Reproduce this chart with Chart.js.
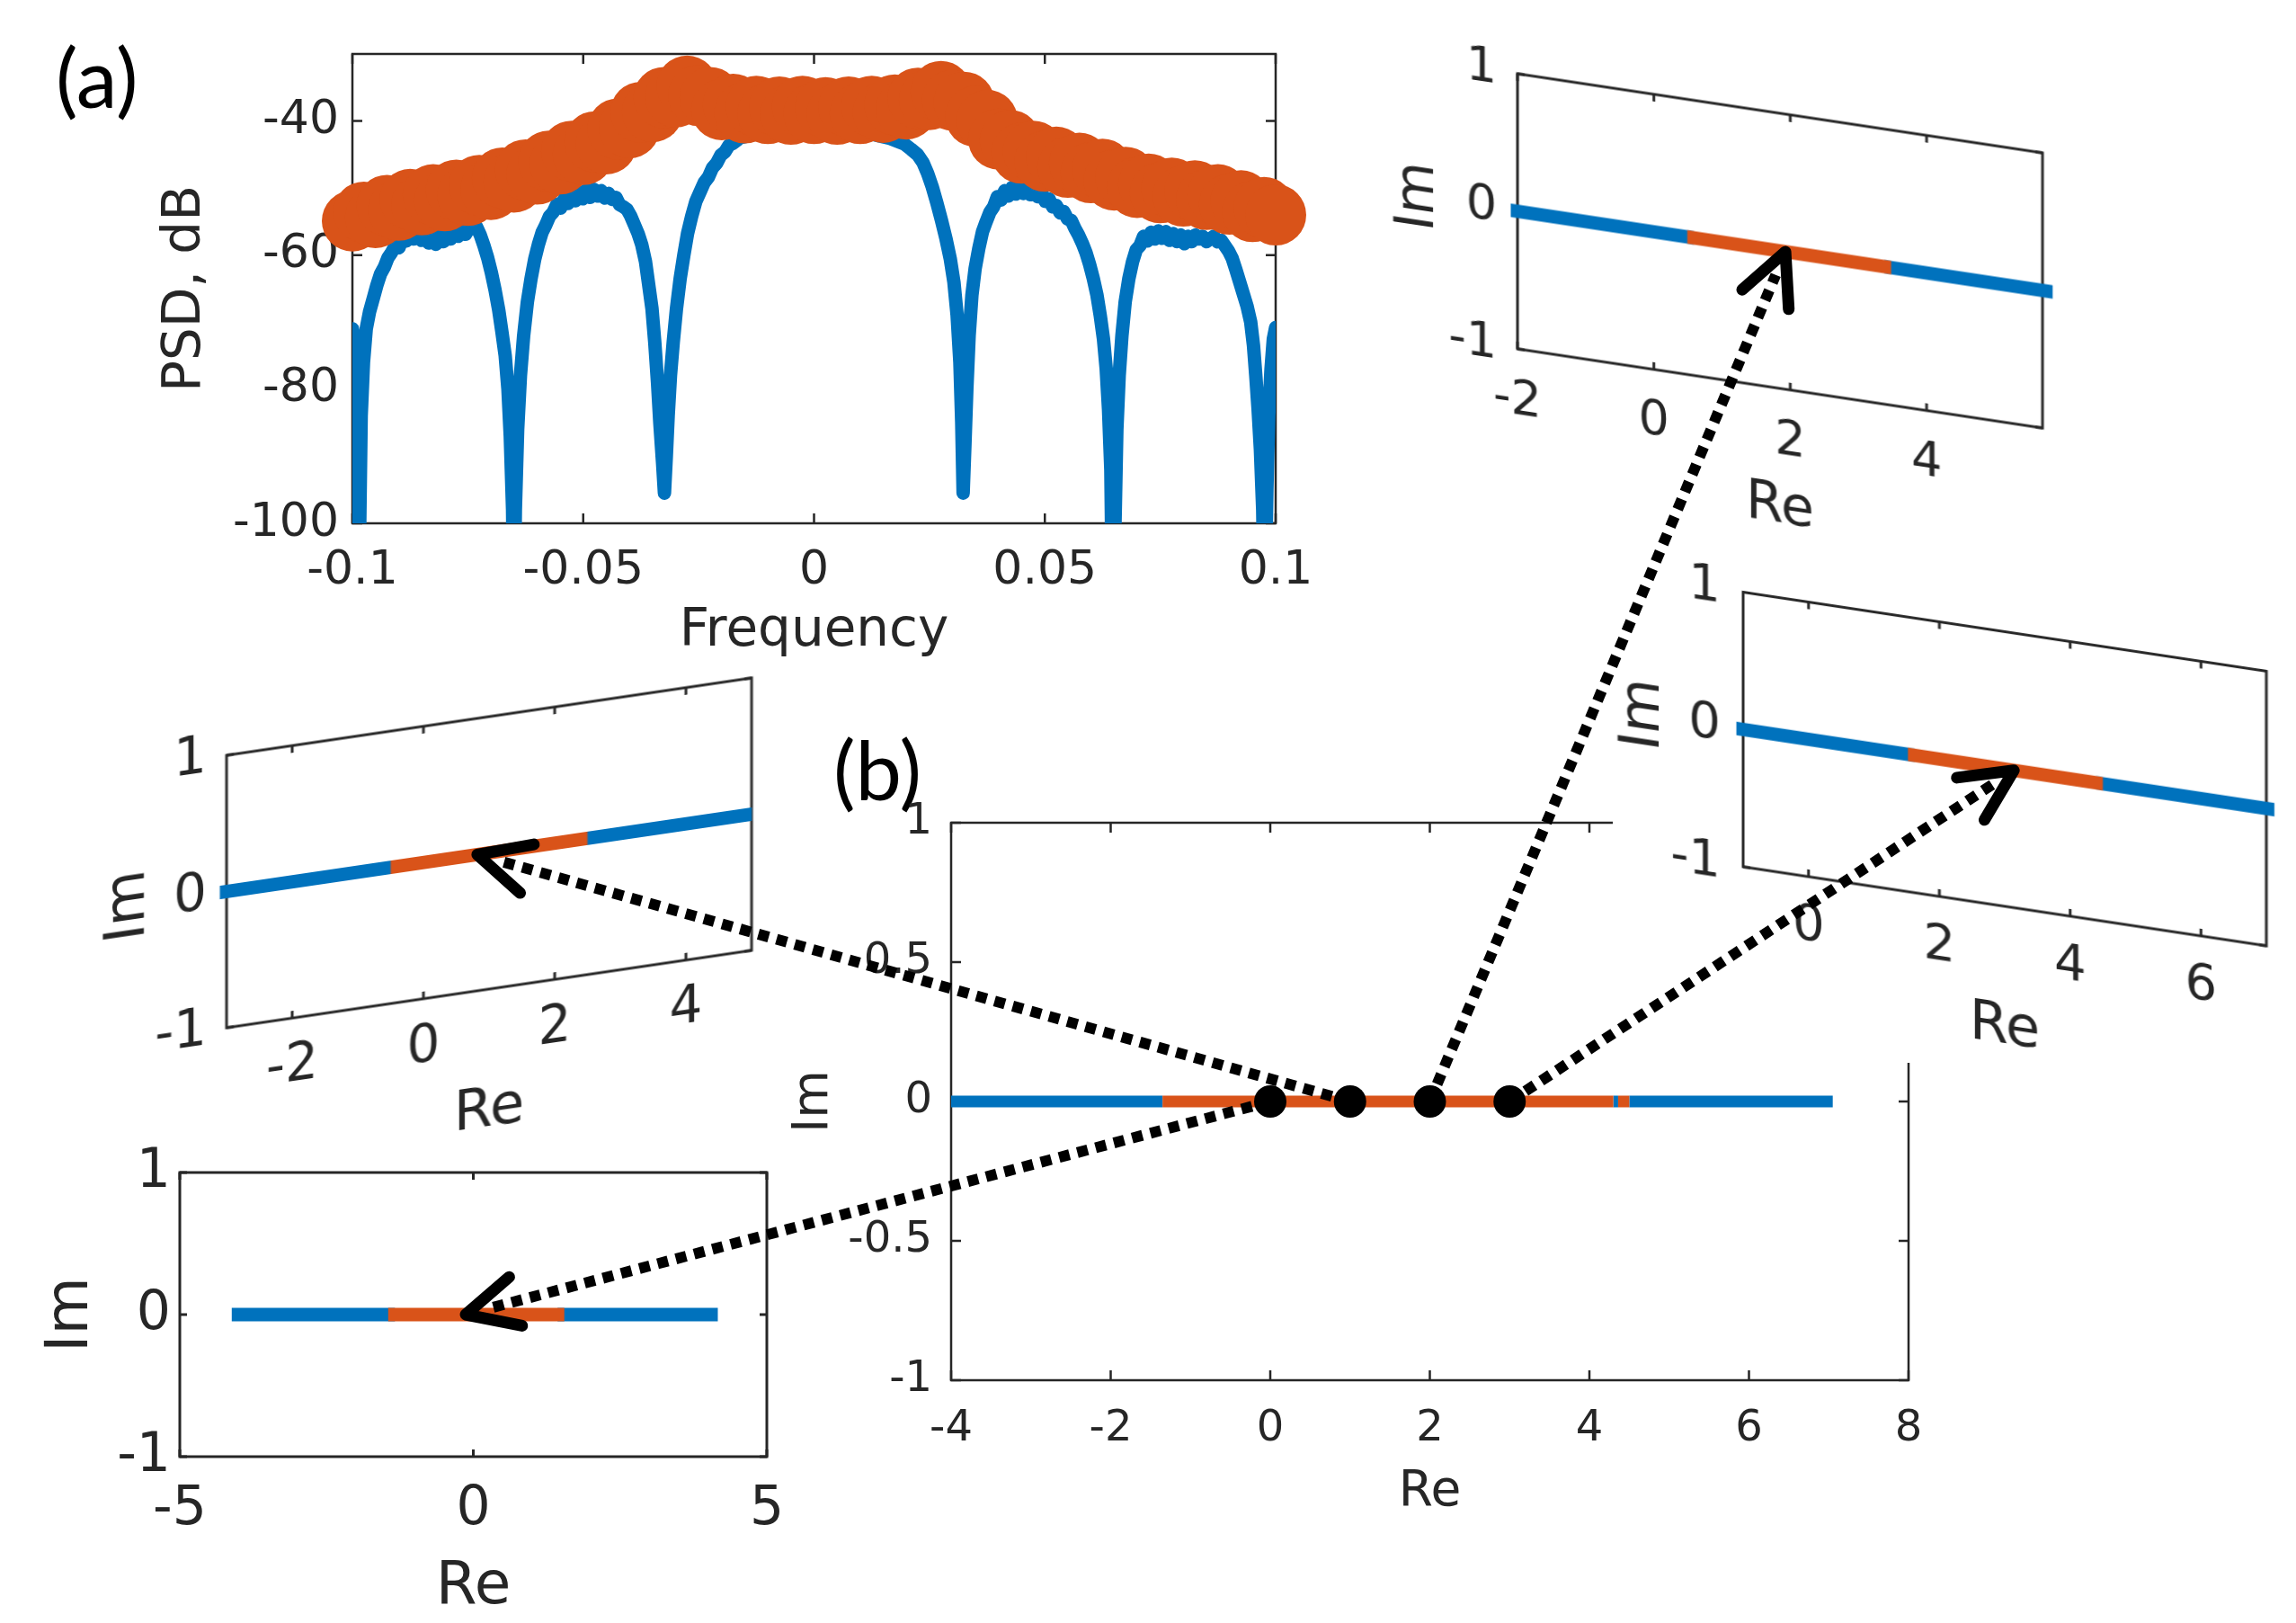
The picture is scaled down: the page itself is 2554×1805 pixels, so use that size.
<!DOCTYPE html>
<html>
<head>
<meta charset="utf-8">
<script src="https://cdn.jsdelivr.net/npm/chart.js@4.4.0/dist/chart.umd.min.js"></script>
<style>
  html, body { margin: 0; padding: 0; background: #fff; }
  body { width: 2554px; height: 1805px; position: relative; overflow: hidden; }
  .box { position: absolute; }
  .panel-label { position: absolute; font-family: Lato, "Open Sans", sans-serif; font-size: 92px; line-height: 1; color: #000; }
  #cover { position: absolute; left: 1794px; top: 600px; width: 760px; height: 582px; background: #fff; }
  #arrows { position: absolute; left: 0; top: 0; }
</style>
</head>
<body>
<div class="panel-label" style="left:62px; top:39px;">(a)</div>
<div class="panel-label" style="left:927px; top:809px;">(b)</div>

<script>
// ---------- panel (a): PSD ----------
var psdFreqOrange = [
  -0.1, -0.0975, -0.095, -0.0925, -0.09, -0.0875, -0.085, -0.0825, -0.08, -0.0775,
  -0.075, -0.0725, -0.07, -0.0675, -0.065, -0.0625, -0.06, -0.0575, -0.055, -0.0525,
  -0.05, -0.0475, -0.045, -0.0425, -0.04, -0.0375, -0.035, -0.0325, -0.03, -0.0275,
  -0.025, -0.0225, -0.02, -0.0175, -0.015, -0.0125, -0.01, -0.0075, -0.005, -0.0025,
  0, 0.0025, 0.005, 0.0075, 0.01, 0.0125, 0.015, 0.0175, 0.02, 0.0225,
  0.025, 0.0275, 0.03, 0.0325, 0.035, 0.0375, 0.04, 0.0425, 0.045, 0.0475,
  0.05, 0.0525, 0.055, 0.0575, 0.06, 0.0625, 0.065, 0.0675, 0.07, 0.0725,
  0.075, 0.0775, 0.08, 0.0825, 0.085, 0.0875, 0.09, 0.0925, 0.095, 0.0975, 0.1
];
var psdOrange = [
  -54.9, -53.6, -54.4, -52.6, -53.3, -51.7, -52.5, -51.0, -51.9, -50.3,
  -51.1, -49.6, -50.2, -48.5, -49.1, -47.3, -47.9, -46.0, -46.4, -44.5,
  -45.0, -43.1, -43.4, -41.2, -41.0, -38.7, -38.6, -36.5, -36.4, -34.8,
  -36.2, -36.5, -38.3, -37.5, -38.8, -37.8, -38.9, -37.9, -39.0, -37.8,
  -38.9, -38.0, -39.0, -37.9, -38.9, -37.8, -38.7, -37.6, -38.2, -36.6,
  -36.8, -35.6, -36.9, -37.2, -39.3, -39.9, -42.7, -42.9, -44.8, -44.5,
  -46.0, -45.4, -46.9, -46.3, -47.7, -47.2, -48.8, -48.4, -49.9, -49.4,
  -50.7, -50.0, -51.2, -50.4, -51.7, -51.0, -52.4, -51.9, -53.5, -52.9, -54.0
];

var psdFreqBlue = [
  -0.1, -0.0995, -0.099, -0.0986, -0.0981, -0.0976, -0.097, -0.0963, -0.0955, -0.0947,
  -0.0939, -0.0931, -0.0923, -0.0915, -0.0907, -0.0899, -0.0891, -0.0883, -0.0875, -0.0867,
  -0.0859, -0.0851, -0.0843, -0.0835, -0.0827, -0.0819, -0.0811, -0.0803, -0.0795, -0.0787,
  -0.0779, -0.0771, -0.0763, -0.0755, -0.0747, -0.0739, -0.0731, -0.0723, -0.0715, -0.0707,
  -0.0699, -0.0691, -0.0683, -0.0676, -0.0669, -0.0663, -0.0658, -0.0653, -0.065,
  -0.0647, -0.0642, -0.0636, -0.0629, -0.0621, -0.0613, -0.0605, -0.0597, -0.0589, -0.0581,
  -0.0573, -0.0565, -0.0557, -0.0549, -0.0541, -0.0533, -0.0525, -0.0517, -0.0509, -0.0501,
  -0.0493, -0.0485, -0.0477, -0.0469, -0.0461, -0.0453, -0.0445, -0.0437, -0.0429, -0.0421,
  -0.0413, -0.0405, -0.0397, -0.0389, -0.0381, -0.0373, -0.0365, -0.0358, -0.0351, -0.0345,
  -0.0339, -0.0334, -0.0328, -0.0324,
  -0.032, -0.0316, -0.0311, -0.0305, -0.0298, -0.029, -0.0282, -0.0274, -0.0265, -0.0256,
  -0.0247, -0.0238, -0.0229, -0.022, -0.0211, -0.0202, -0.0193, -0.0184, -0.0175, -0.016,
  -0.014, -0.01, -0.005, 0, 0.005, 0.01, 0.014, 0.0165, 0.018, 0.0195,
  0.021, 0.0224, 0.0236, 0.0246, 0.0256, 0.0266, 0.0276, 0.0286, 0.0295, 0.0303,
  0.031, 0.0316, 0.032, 0.0323,
  0.0327, 0.0331, 0.0336, 0.0342, 0.0349, 0.0357, 0.0365, 0.0373, 0.0381, 0.0389,
  0.0397, 0.0405, 0.0413, 0.0421, 0.0429, 0.0437, 0.0445, 0.0453, 0.0461, 0.0469,
  0.0477, 0.0485, 0.0493, 0.0501, 0.0509, 0.0517, 0.0525, 0.0533, 0.0541, 0.0549,
  0.0557, 0.0565, 0.0573, 0.0581, 0.0589, 0.0597, 0.0605, 0.0613, 0.062, 0.0627,
  0.0633, 0.0638, 0.0643, 0.0647,
  0.0652, 0.0656, 0.0661, 0.0667, 0.0674, 0.0682, 0.069, 0.0698, 0.0706, 0.0714,
  0.0722, 0.073, 0.0738, 0.0746, 0.0754, 0.0762, 0.077, 0.0778, 0.0786, 0.0794,
  0.0802, 0.081, 0.0818, 0.0826, 0.0834, 0.0842, 0.085, 0.0858, 0.0866, 0.0874,
  0.0882, 0.089, 0.0898, 0.0906, 0.0914, 0.0922, 0.093, 0.0938, 0.0946, 0.0952,
  0.0957, 0.0962, 0.0967, 0.0972, 0.0976,
  0.0981, 0.0985, 0.099, 0.0995, 0.1
];
var psdBlue = [
  -71, -73, -82, -110, -84, -76, -71, -68.5, -66.5, -64.5,
  -62.8, -61.8, -60.4, -59.6, -58.6, -58.9, -57.4, -57.9, -56.8, -57.6,
  -56.4, -57.8, -56.6, -58.2, -56.8, -58.4, -57.0, -58.0, -56.5, -57.6,
  -56.2, -57.2, -56.0, -56.9, -56.0, -55.4, -55.8, -57.0, -58.6, -60.4,
  -62.6, -65.2, -68.2, -71.5, -75, -80, -87, -98, -115,
  -98, -86, -78, -72, -67, -63.5, -60.6, -58.4, -56.6, -55.5,
  -54.2, -53.6, -52.4, -53.0, -51.6, -52.3, -51.0, -51.9, -50.6, -51.6,
  -50.3, -51.4, -50.2, -51.2, -50.4, -51.5, -50.8, -51.7, -51.4, -52.5,
  -52.8, -53.2, -54.2, -55.5, -56.8, -58.5, -61, -64.5, -68, -73,
  -79, -85, -91, -95.5,
  -90, -84, -78, -73, -68, -63.5, -60, -56.8, -54.2, -52,
  -50.6, -49.2, -48.4, -47, -46.3, -45.1, -44.6, -43.6, -43.3, -42.5,
  -42.2, -41.5, -41.2, -41.0, -41.2, -41.5, -42.2, -42.6, -43.0, -43.4,
  -44.2, -45.0, -46.2, -47.8, -49.8, -52.2, -54.8, -57.6, -60.5, -64,
  -69, -76, -85, -95.5,
  -88, -80, -72, -66, -62, -59, -56.5, -55.0, -53.6, -52.8,
  -51.3, -51.8, -50.4, -51.2, -49.9, -50.9, -49.8, -50.8, -50.0, -51.0,
  -50.3, -51.3, -50.8, -52.0, -51.6, -52.8, -52.6, -53.7, -53.5, -54.6,
  -54.8, -56.0, -57.0, -58.2, -59.6, -61.4, -63.5, -66, -69, -72.5,
  -77, -83, -92, -115,
  -100, -86, -78, -72, -67, -63.5, -61, -59.2, -58.6, -57.2,
  -57.9, -56.6, -57.6, -56.4, -57.5, -56.5, -57.8, -56.8, -58.0, -57.0,
  -58.3, -57.2, -58.0, -57.0, -57.6, -57.2, -58.0, -57.6, -57.2, -58.0,
  -57.8, -58.6, -59.4, -60.5, -62.2, -64, -65.8, -67.6, -70, -73.5,
  -78, -83, -89, -98, -115,
  -95, -84, -77, -72.5, -70.8
];
var psdXTicks = [-0.1, -0.05, 0, 0.05, 0.1];
var psdYTicks = [-100, -80, -60, -40];

// ---------- panel (b): main Re/Im plot ----------
var mainBlue = [[-4, -1.35], [4.3, 4.36], [4.5, 7.05]];
var mainOrange = [[-1.35, 4.3], [4.36, 4.5]];
var markerRe = [0, 1, 2, 3];
var mainXTicks = [-4, -2, 0, 2, 4, 6, 8];
var mainYTicks = [-1, -0.5, 0, 0.5, 1];

// ---------- insets: bottom-left, left, top-right, middle-right ----------
var insetBlue = [
  [[-4, -1.45], [1.55, 4.05]],
  [[-3, -0.5], [2.5, 4.9]],
  [[-2, 0.49], [3.48, 5.75]],
  [[-1, 1.52], [4.5, 7.02]]
];
var insetOrange = [[-1.45, 1.55], [-0.5, 2.5], [0.49, 3.48], [1.52, 4.5]];
var insetXRange = [[-5, 5], [-3, 5], [-2, 5.7], [-1, 7]];
var insetXTicks = [[-5, 0, 5], [-2, 0, 2, 4], [-2, 0, 2, 4], [0, 2, 4, 6]];
var insetYTicks = [-1, 0, 1];
var arrowTipRe = [-0.13, 0.82, 1.93, 3.14];

var BLUE = "#0072BD";
var ORANGE = "#D95319";
var TXT = "#262626";
var FONT = "'DejaVu Sans', sans-serif";

// box + inward ticks on all four sides, like matlab axes
var matlabBox = {
  id: "matlabBox",
  beforeDatasetsDraw: function (chart, args, opts) {
    var ctx = chart.ctx;
    var a = chart.chartArea;
    var sx = chart.scales.x, sy = chart.scales.y;
    var len = opts.tickLen;
    ctx.save();
    ctx.strokeStyle = TXT;
    ctx.lineWidth = opts.lineWidth;
    ctx.strokeRect(a.left, a.top, a.right - a.left, a.bottom - a.top);
    ctx.beginPath();
    sx.ticks.forEach(function (t) {
      var px = sx.getPixelForValue(t.value);
      ctx.moveTo(px, a.bottom); ctx.lineTo(px, a.bottom - len);
      ctx.moveTo(px, a.top); ctx.lineTo(px, a.top + len);
    });
    sy.ticks.forEach(function (t) {
      var py = sy.getPixelForValue(t.value);
      ctx.moveTo(a.left, py); ctx.lineTo(a.left + len, py);
      ctx.moveTo(a.right, py); ctx.lineTo(a.right - len, py);
    });
    ctx.stroke();
    ctx.restore();
  }
};

function makeChart(spec, datasets, xAxis, yAxis) {
  var wrap = document.createElement("div");
  wrap.className = "box";
  wrap.style.left = spec.left + "px";
  wrap.style.top = spec.top + "px";
  wrap.style.width = spec.width + "px";
  wrap.style.height = spec.height + "px";
  if (spec.skew) {
    wrap.style.transformOrigin = (spec.plotL - spec.left) + "px " + (spec.plotT - spec.top) + "px";
    wrap.style.transform = "skewY(" + Math.atan(spec.skew) + "rad)";
  }
  var canvas = document.createElement("canvas");
  canvas.width = spec.width;
  canvas.height = spec.height;
  wrap.appendChild(canvas);
  document.body.appendChild(wrap);

  var tickLh = spec.tickSize * 1.2;
  var titleLh = spec.titleSize * 1.2;
  var yAxisW = spec.plotL - (spec.yTitleX - titleLh / 2);
  var xAxisH = spec.xTitleY + titleLh / 2 - spec.plotB;
  var tickFont = { family: FONT, size: spec.tickSize, lineHeight: 1.2 };
  var titleFont = { family: FONT, size: spec.titleSize, lineHeight: 1.2 };

  return new Chart(canvas, {
    type: "line",
    data: { datasets: datasets },
    options: {
      responsive: false,
      animation: false,
      events: [],
      layout: {
        autoPadding: false,
        padding: {
          left: spec.yTitleX - titleLh / 2 - spec.left,
          top: spec.plotT - spec.top,
          right: spec.left + spec.width - spec.plotR,
          bottom: spec.top + spec.height - (spec.xTitleY + titleLh / 2)
        }
      },
      plugins: {
        legend: { display: false },
        tooltip: { enabled: false },
        matlabBox: { tickLen: spec.tickLen, lineWidth: spec.boxWidth }
      },
      scales: {
        x: {
          type: "linear",
          min: xAxis.min,
          max: xAxis.max,
          afterBuildTicks: function (s) { s.ticks = xAxis.ticks.map(function (v) { return { value: v }; }); },
          afterFit: function (s) { s.height = xAxisH; },
          grid: { display: false, drawTicks: false },
          border: { display: false },
          ticks: {
            font: tickFont, color: TXT, maxRotation: 0, autoSkip: false,
            padding: spec.xLabelY - spec.plotB - tickLh / 2,
            callback: function (v) { return String(v); }
          },
          title: { display: true, text: xAxis.title, font: titleFont, color: TXT, padding: 0 }
        },
        y: {
          type: "linear",
          min: yAxis.min,
          max: yAxis.max,
          afterBuildTicks: function (s) { s.ticks = yAxis.ticks.map(function (v) { return { value: v }; }); },
          afterFit: function (s) { s.width = yAxisW; },
          grid: { display: false, drawTicks: false },
          border: { display: false },
          ticks: {
            font: tickFont, color: TXT, autoSkip: false,
            padding: spec.yGap,
            callback: function (v) { return String(v); }
          },
          title: { display: true, text: yAxis.title, font: titleFont, color: TXT, padding: 0 }
        }
      }
    },
    plugins: [matlabBox]
  });
}

function segment(pair, color, width, cap, order) {
  return {
    data: [{ x: pair[0], y: 0 }, { x: pair[1], y: 0 }],
    borderColor: color,
    borderWidth: width,
    borderCapStyle: cap,
    pointRadius: 0,
    clip: false,
    order: order
  };
}

// ---- panel (a) ----
var psdSpec = {
  left: 0, top: 0, width: 1500, height: 780,
  plotL: 392, plotT: 60, plotR: 1419, plotB: 582,
  tickSize: 52, titleSize: 58, yGap: 15, xLabelY: 635, xTitleY: 703, yTitleX: 207,
  tickLen: 11, boxWidth: 2.5
};
makeChart(psdSpec, [
  {
    data: psdFreqOrange.map(function (f, i) { return { x: f, y: psdOrange[i] }; }),
    borderColor: ORANGE, backgroundColor: ORANGE, borderWidth: 62,
    pointRadius: 34, pointBorderWidth: 0, pointBackgroundColor: ORANGE,
    borderJoinStyle: "round", clip: false, order: 0
  },
  {
    data: psdFreqBlue.map(function (f, i) { return { x: f, y: psdBlue[i] }; }),
    borderColor: BLUE, borderWidth: 15, pointRadius: 0,
    borderJoinStyle: "round", borderCapStyle: "round", order: 1
  }
], { min: -0.1, max: 0.1, ticks: psdXTicks, title: "Frequency" },
   { min: -100, max: -30, ticks: psdYTicks, title: "PSD, dB" });

// ---- panel (b) main ----
var mainSpec = {
  left: 880, top: 830, width: 1330, height: 880,
  plotL: 1058, plotT: 915, plotR: 2123, plotB: 1535,
  tickSize: 48, titleSize: 55, yGap: 21, xLabelY: 1590, xTitleY: 1660, yTitleX: 906,
  tickLen: 11, boxWidth: 2.5
};
var mainSets = [];
mainBlue.forEach(function (p) { mainSets.push(segment(p, BLUE, 13, "butt", 2)); });
mainOrange.forEach(function (p) { mainSets.push(segment(p, ORANGE, 13, "butt", 1)); });
mainSets.push({
  data: markerRe.map(function (r) { return { x: r, y: 0 }; }),
  showLine: false, pointRadius: 18, pointBorderWidth: 0,
  pointBackgroundColor: "#000", borderColor: "#000", order: 0
});
var mainChart = makeChart(mainSpec, mainSets,
  { min: -4, max: 8, ticks: mainXTicks, title: "Re" },
  { min: -1, max: 1, ticks: mainYTicks, title: "Im" });

// white patch of the pasted inset that hides the main plot's corner
var cover = document.createElement("div");
cover.id = "cover";
document.body.appendChild(cover);

// ---- insets ----
var insetSpecs = [
  { left: 0, top: 1250, width: 900, height: 570,
    plotL: 200, plotT: 1304, plotR: 853, plotB: 1620,
    tickSize: 60, titleSize: 66, yGap: 10, xLabelY: 1679, xTitleY: 1766, yTitleX: 80,
    tickLen: 8, boxWidth: 3, skew: 0 },
  { left: 40, top: 700, width: 860, height: 620,
    plotL: 252, plotT: 840, plotR: 836, plotB: 1143,
    tickSize: 58, titleSize: 62, yGap: 22, xLabelY: 1198, xTitleY: 1279, yTitleX: 144,
    tickLen: 8, boxWidth: 3, skew: -0.1473 },
  { left: 1500, top: 20, width: 850, height: 620,
    plotL: 1688, plotT: 82, plotR: 2272, plotB: 388,
    tickSize: 54, titleSize: 60, yGap: 23, xLabelY: 446, xTitleY: 521, yTitleX: 1578,
    tickLen: 8, boxWidth: 3, skew: 0.1507 },
  { left: 1760, top: 600, width: 794, height: 620,
    plotL: 1939, plotT: 658, plotR: 2521, plotB: 964,
    tickSize: 56, titleSize: 62, yGap: 25, xLabelY: 1019, xTitleY: 1100, yTitleX: 1829,
    tickLen: 8, boxWidth: 3, skew: 0.151 }
];

var insetCharts = insetSpecs.map(function (spec, i) {
  var sets = [];
  insetBlue[i].forEach(function (p) { sets.push(segment(p, BLUE, 15, "square", 1)); });
  sets.push(segment(insetOrange[i], ORANGE, 15, "butt", 0));
  return makeChart(spec, sets,
    { min: insetXRange[i][0], max: insetXRange[i][1], ticks: insetXTicks[i], title: "Re" },
    { min: -1, max: 1, ticks: insetYTicks, title: "Im" });
});

// ---- dotted arrows from the markers to the insets ----
function pagePoint(chart, spec, xv, yv) {
  var px = chart.scales.x.getPixelForValue(xv);
  var py = chart.scales.y.getPixelForValue(yv);
  var ox = spec.plotL - spec.left;
  var k = spec.skew || 0;
  return { x: spec.left + px, y: spec.top + py + k * (px - ox) };
}

function drawArrow(ctx, s, t) {
  var dx = t.x - s.x, dy = t.y - s.y;
  var L = Math.hypot(dx, dy);
  var ux = dx / L, uy = dy / L;
  ctx.save();
  ctx.strokeStyle = "#000";
  ctx.lineWidth = 12;
  ctx.setLineDash([12, 9]);
  ctx.lineCap = "butt";
  ctx.beginPath();
  ctx.moveTo(s.x, s.y);
  ctx.lineTo(t.x - ux * 28, t.y - uy * 28);
  ctx.stroke();

  ctx.setLineDash([]);
  ctx.lineWidth = 13;
  ctx.lineCap = "round";
  ctx.lineJoin = "round";
  var ang = 26 * Math.PI / 180, len = 64;
  var bx = -ux, by = -uy;
  var c = Math.cos(ang), sn = Math.sin(ang);
  ctx.beginPath();
  ctx.moveTo(t.x + (bx * c - by * sn) * len, t.y + (bx * sn + by * c) * len);
  ctx.lineTo(t.x, t.y);
  ctx.lineTo(t.x + (bx * c + by * sn) * len, t.y + (-bx * sn + by * c) * len);
  ctx.stroke();
  ctx.restore();
}

var overlay = document.createElement("canvas");
overlay.id = "arrows";
overlay.width = 2554;
overlay.height = 1805;
document.body.appendChild(overlay);
var octx = overlay.getContext("2d");
insetCharts.forEach(function (ch, i) {
  var s = pagePoint(mainChart, mainSpec, markerRe[i], 0);
  var t = pagePoint(ch, insetSpecs[i], arrowTipRe[i], 0);
  drawArrow(octx, s, t);
});
</script>
</body>
</html>
